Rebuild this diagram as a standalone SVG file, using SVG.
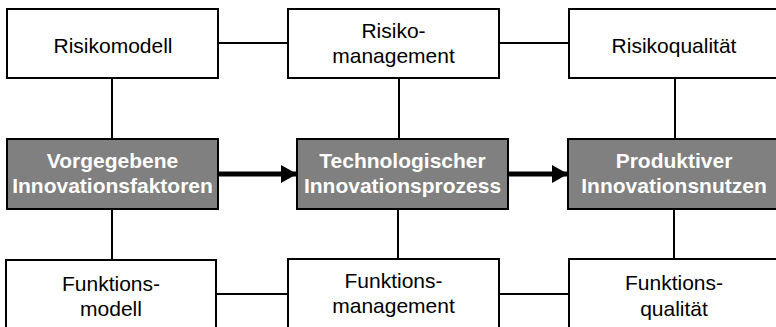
<svg xmlns="http://www.w3.org/2000/svg" width="776" height="327" viewBox="0 0 776 327">
<defs>
<style>
.box{fill:#fff;stroke:#000;stroke-width:2}
.dark{fill:#808080;stroke:#000;stroke-width:2}
.t{font-family:"Liberation Sans",Arial,sans-serif;font-size:21px;fill:#000;text-anchor:middle}
.b{font-family:"Liberation Sans",Arial,sans-serif;font-size:21px;font-weight:bold;fill:#fff;text-anchor:middle}
.c{stroke:#000;stroke-width:2;fill:none}
.a{stroke:#000;stroke-width:5;fill:none}
</style>
<marker id="ah" markerUnits="userSpaceOnUse" markerWidth="16" markerHeight="18" refX="16" refY="9" orient="auto">
<path d="M0,0 L16,9 L0,18 Z" fill="#000"/>
</marker>
</defs>
<rect width="776" height="327" fill="#fff"/>
<g id="connectors">
<line class="c" x1="218" y1="43" x2="288" y2="43"/>
<line class="c" x1="499" y1="43" x2="569" y2="43"/>
<line class="c" x1="112" y1="78" x2="112" y2="139"/>
<line class="c" x1="399" y1="78" x2="399" y2="139"/>
<line class="c" x1="675" y1="78" x2="675" y2="139"/>
<line class="c" x1="112" y1="209" x2="112" y2="259"/>
<line class="c" x1="398" y1="209" x2="398" y2="259"/>
<line class="c" x1="674" y1="209" x2="674" y2="259"/>
<line class="c" x1="216" y1="294" x2="288" y2="294"/>
<line class="c" x1="499" y1="294" x2="569" y2="294"/>
<line class="a" x1="218" y1="174" x2="297" y2="174" marker-end="url(#ah)"/>
<line class="a" x1="508" y1="174" x2="568" y2="174" marker-end="url(#ah)"/>
</g>
<g id="risikomodell">
<rect class="box" x="7" y="9" width="211" height="69"/>
<text class="t" x="113" y="52.5">Risikomodell</text>
</g>
<g id="risikomanagement">
<rect class="box" x="288" y="9" width="211" height="69"/>
<text class="t" x="393.5" y="38">Risiko-</text>
<text class="t" x="393.5" y="63">management</text>
</g>
<g id="risikoqualitaet">
<rect class="box" x="569" y="9" width="220" height="69"/>
<text class="t" x="674" y="52.5">Risikoqualität</text>
</g>
<g id="vorgegebene">
<rect class="dark" x="7" y="139" width="211" height="70"/>
<text class="b" x="112.5" y="168">Vorgegebene</text>
<text class="b" x="112.5" y="193">Innovationsfaktoren</text>
</g>
<g id="technologischer">
<rect class="dark" x="297" y="139" width="211" height="70"/>
<text class="b" x="402.5" y="168">Technologischer</text>
<text class="b" x="402.5" y="193">Innovationsprozess</text>
</g>
<g id="produktiver">
<rect class="dark" x="568" y="139" width="221" height="70"/>
<text class="b" x="674" y="168">Produktiver</text>
<text class="b" x="674" y="193">Innovationsnutzen</text>
</g>
<g id="funktionsmodell">
<rect class="box" x="6" y="260" width="210" height="80"/>
<text class="t" x="111" y="291">Funktions-</text>
<text class="t" x="111" y="316">modell</text>
</g>
<g id="funktionsmanagement">
<rect class="box" x="288" y="259" width="211" height="80"/>
<text class="t" x="393.5" y="288">Funktions-</text>
<text class="t" x="393.5" y="313">management</text>
</g>
<g id="funktionsqualitaet">
<rect class="box" x="569" y="259" width="220" height="80"/>
<text class="t" x="674" y="290">Funktions-</text>
<text class="t" x="674" y="316">qualität</text>
</g>
</svg>
